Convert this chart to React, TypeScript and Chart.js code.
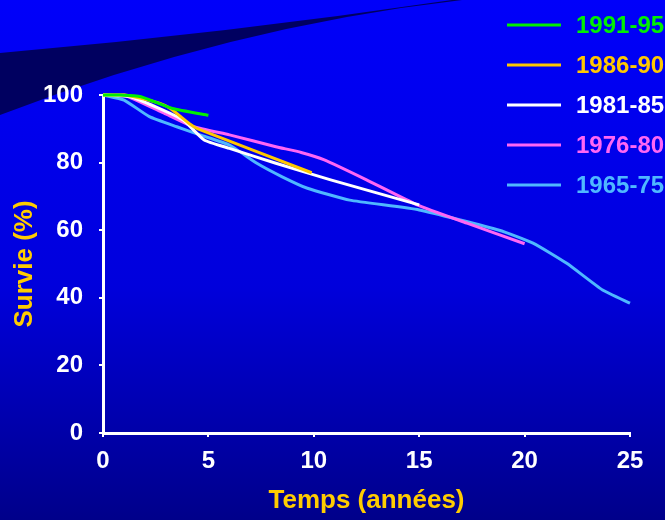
import React, { useEffect, useRef } from "react";
import { Chart, registerables } from "chart.js";

Chart.register(...registerables);

const seriesLabels = ["1991-95", "1986-90", "1981-85", "1976-80", "1965-75"];
const seriesColors = ["#00F000", "#FFC800", "#FFFFFF", "#FF66F4", "#4FB8FF"];

const years1991 = [0, 0.8, 1.8, 3.3, 5];
const surv1991 = [100, 100, 99.5, 96, 94];
const years1986 = [0, 1, 1.8, 2.7, 3.2, 4.1, 4.5, 9.9];
const surv1986 = [100, 100, 99, 97.5, 96, 91.5, 90, 77];
const years1981 = [0, 1.3, 2.5, 3.8, 4.8, 6, 8.2, 10.8, 15];
const surv1981 = [100, 99.5, 96.5, 92.6, 86.7, 84.2, 79.8, 74.9, 67.5];
const years1976 = [0, 1, 2.9, 4.3, 6, 8.2, 9.4, 10.5, 12.5, 14.9, 17.3, 20];
const surv1976 = [100, 100, 94.6, 90.6, 88.2, 84.7, 83, 80.8, 74.9, 67.5, 62, 56];
const years1965 = [0, 1, 2.2, 3.5, 4.6, 6, 7.3, 8.5, 9.7, 11.7, 15, 18.8, 20.4, 22, 23.7, 25];
const surv1965 = [100, 98.5, 93.6, 90.6, 88.2, 85.2, 79.8, 75.8, 72.4, 68.9, 66, 60, 56.2, 50.2, 42.3, 38.4];

const seriesYears = [years1991, years1986, years1981, years1976, years1965];
const seriesSurv = [surv1991, surv1986, surv1981, surv1976, surv1965];

const xTicks = [0, 5, 10, 15, 20, 25];
const yTicks = [0, 20, 40, 60, 80, 100];

const FONT = "'Liberation Sans', Arial, sans-serif";

const backgroundPlugin = {
  id: "bgSwoosh",
  beforeDraw(chart: any) {
    const { ctx, width, height } = chart;
    ctx.save();
    const g = ctx.createLinearGradient(0, 0, 0, height);
    g.addColorStop(0, "#0000FA");
    g.addColorStop(0.55, "#0000DC");
    g.addColorStop(1, "#00008A");
    ctx.fillStyle = g;
    ctx.fillRect(0, 0, width, height);
    ctx.beginPath();
    ctx.moveTo(0, 53);
    ctx.quadraticCurveTo(225, 33.5, 452, 0);
    ctx.lineTo(462, 0);
    ctx.quadraticCurveTo(230, 26.5, 0, 115);
    ctx.closePath();
    ctx.fillStyle = "#000060";
    ctx.fill();
    ctx.restore();
  },
};

const legendPlugin = {
  id: "customLegend",
  afterDraw(chart: any) {
    const { ctx } = chart;
    ctx.save();
    chart.data.datasets.forEach((ds: any, i: number) => {
      const y = 25 + i * 40;
      ctx.strokeStyle = ds.borderColor;
      ctx.lineWidth = 3;
      ctx.beginPath();
      ctx.moveTo(507, y);
      ctx.lineTo(561, y);
      ctx.stroke();
      ctx.fillStyle = ds.borderColor;
      ctx.font = `bold 24px ${FONT}`;
      ctx.textBaseline = "middle";
      ctx.textAlign = "left";
      ctx.fillText(ds.label, 576, y + 1);
    });
    ctx.restore();
  },
};

export default function App() {
  const canvasRef = useRef<HTMLCanvasElement | null>(null);

  useEffect(() => {
    document.body.style.margin = "0";
    const canvas = canvasRef.current;
    if (!canvas) return;
    const datasets = seriesLabels.map((label, i) => ({
      label,
      data: seriesYears[i].map((x, j) => ({ x, y: seriesSurv[i][j] })),
      borderColor: seriesColors[i],
      backgroundColor: seriesColors[i],
      borderWidth: 3,
      pointRadius: 0,
      tension: 0.15,
      fill: false,
      clip: 6,
    }));
    const chart = new Chart(canvas, {
      type: "line",
      data: { datasets },
      plugins: [backgroundPlugin, legendPlugin],
      options: {
        animation: false,
        responsive: false,
        devicePixelRatio: 1,
        layout: { padding: { top: 95, right: 35, bottom: 0, left: 0 } },
        plugins: { legend: { display: false }, tooltip: { enabled: false } },
        scales: {
          x: {
            type: "linear",
            min: 0,
            max: 25,
            afterBuildTicks: (s: any) => {
              s.ticks = xTicks.map((v) => ({ value: v }));
            },
            afterFit: (s: any) => {
              s.height = 87;
            },
            ticks: {
              color: "#FFFFFF",
              font: { family: FONT, size: 24, weight: "bold" },
              padding: 10,
              maxRotation: 0,
            },
            grid: {
              display: true,
              drawOnChartArea: false,
              drawTicks: true,
              tickLength: 4,
              color: "#FFFFFF",
              lineWidth: 2,
            },
            border: { display: true, color: "#FFFFFF", width: 3 },
            title: {
              display: true,
              text: "Temps (années)",
              color: "#FFCC00",
              font: { family: FONT, size: 26, weight: "bold" },
              padding: { top: 0, bottom: 4 },
            },
          },
          y: {
            type: "linear",
            min: 0,
            max: 100,
            afterBuildTicks: (s: any) => {
              s.ticks = yTicks.map((v) => ({ value: v }));
            },
            afterFit: (s: any) => {
              s.width = 103;
            },
            ticks: {
              color: "#FFFFFF",
              font: { family: FONT, size: 24, weight: "bold" },
              padding: 16,
            },
            grid: {
              display: true,
              drawOnChartArea: false,
              drawTicks: true,
              tickLength: 4,
              color: "#FFFFFF",
              lineWidth: 2,
            },
            border: { display: true, color: "#FFFFFF", width: 3 },
            title: {
              display: true,
              text: "Survie (%)",
              color: "#FFCC00",
              font: { family: FONT, size: 26, weight: "bold" },
              padding: { top: 9, bottom: 0 },
            },
          },
        },
      },
    } as any);
    return () => chart.destroy();
  }, []);

  return (
    <div style={{ width: 665, height: 520, position: "relative" }}>
      <canvas ref={canvasRef} width={665} height={520} style={{ display: "block" }} />
    </div>
  );
}
